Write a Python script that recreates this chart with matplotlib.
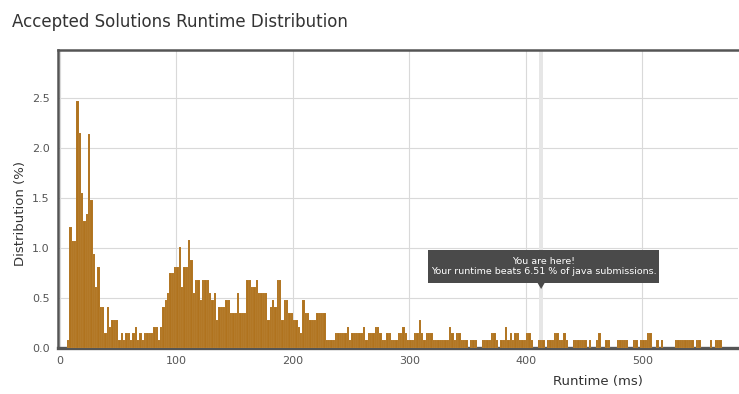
import numpy as np
import matplotlib
matplotlib.use('Agg')
import matplotlib.pyplot as plt
from matplotlib.patches import Rectangle, Polygon

# runtime bins (ms, 2 ms wide) and share of accepted solutions (%)
bin_start = 6
bin_width = 2
dist = [
    0.08, 1.21, 1.07, 1.07, 2.47, 2.15, 1.55, 1.27, 1.34, 2.14,   # 6-24
    1.48, 0.94, 0.61, 0.81, 0.41, 0.41, 0.15, 0.41, 0.21, 0.28,   # 26-44
    0.28, 0.28, 0.08, 0.15, 0.08, 0.15, 0.15, 0.08, 0.15, 0.21,   # 46-64
    0.08, 0.15, 0.08, 0.15, 0.15, 0.15, 0.15, 0.21, 0.21, 0.08,   # 66-84
    0.21, 0.41, 0.48, 0.55, 0.75, 0.75, 0.81, 0.81, 1.01, 0.61,   # 86-104
    0.81, 0.81, 1.08, 0.88, 0.55, 0.68, 0.68, 0.48, 0.68, 0.68,   # 106-124
    0.68, 0.55, 0.48, 0.55, 0.28, 0.41, 0.41, 0.41, 0.48, 0.48,   # 126-144
    0.35, 0.35, 0.35, 0.55, 0.35, 0.35, 0.35, 0.68, 0.68, 0.61,   # 146-164
    0.61, 0.68, 0.55, 0.55, 0.55, 0.55, 0.28, 0.41, 0.48, 0.41,   # 166-184
    0.68, 0.68, 0.28, 0.48, 0.48, 0.35, 0.35, 0.28, 0.28, 0.21,   # 186-204
    0.15, 0.48, 0.35, 0.35, 0.28, 0.28, 0.28, 0.35, 0.35, 0.35,   # 206-224
    0.35, 0.08, 0.08, 0.08, 0.08, 0.15, 0.15, 0.15, 0.15, 0.15,   # 226-244
    0.21, 0.08, 0.15, 0.15, 0.15, 0.15, 0.15, 0.21, 0.08, 0.15,   # 246-264
    0.15, 0.15, 0.21, 0.21, 0.15, 0.08, 0.08, 0.15, 0.15, 0.08,   # 266-284
    0.08, 0.08, 0.15, 0.15, 0.21, 0.15, 0.08, 0.08, 0.08, 0.15,   # 286-304
    0.15, 0.28, 0.15, 0.08, 0.15, 0.15, 0.15, 0.08, 0.08, 0.08,   # 306-324
    0.08, 0.08, 0.08, 0.08, 0.21, 0.15, 0.08, 0.15, 0.15, 0.08,   # 326-344
    0.08, 0.08, 0.00, 0.08, 0.08, 0.08, 0.00, 0.00, 0.08, 0.08,   # 346-364
    0.08, 0.08, 0.15, 0.15, 0.08, 0.00, 0.08, 0.08, 0.21, 0.08,   # 366-384
    0.15, 0.08, 0.15, 0.15, 0.08, 0.08, 0.08, 0.15, 0.15, 0.08,   # 386-404
    0.00, 0.00, 0.08, 0.08, 0.08, 0.00, 0.08, 0.08, 0.08, 0.15,   # 406-424
    0.15, 0.08, 0.08, 0.15, 0.08, 0.00, 0.00, 0.08, 0.08, 0.08,   # 426-444
    0.08, 0.08, 0.08, 0.00, 0.08, 0.00, 0.00, 0.08, 0.15, 0.00,   # 446-464
    0.00, 0.08, 0.08, 0.00, 0.00, 0.00, 0.08, 0.08, 0.08, 0.08,   # 466-484
    0.08, 0.00, 0.00, 0.08, 0.08, 0.00, 0.08, 0.08, 0.08, 0.15,   # 486-504
    0.15, 0.00, 0.00, 0.08, 0.00, 0.08, 0.00, 0.00, 0.00, 0.00,   # 506-524
    0.00, 0.08, 0.08, 0.08, 0.08, 0.08, 0.08, 0.08, 0.08, 0.00,   # 526-544
    0.08, 0.08, 0.00, 0.00, 0.00, 0.00, 0.08, 0.00, 0.08, 0.08,   # 546-564
    0.08,                                                         # 566
]
my_runtime = 413
beats_pct = 6.51
language = "java"

runtimes = bin_start + bin_width * np.arange(len(dist))

fig = plt.figure(figsize=(7.39, 3.94), dpi=100)
ax = fig.add_axes([58 / 739, 1 - 348 / 394, 680 / 739, 298 / 394])

ax.bar(runtimes, dist, width=bin_width, align='edge', color='#b0731e',
       edgecolor=(1, 1, 1, 0.15), linewidth=0.3, zorder=3)

# "you are here" band
ax.axvspan(my_runtime - 1.8, my_runtime + 1.8, color='#e6e6e6', zorder=1, lw=0)

ax.set_xlim(-1.7, 582)
ax.set_ylim(0, 2.98)
ax.set_xticks([0, 100, 200, 300, 400, 500])
ax.set_yticks([0, 0.5, 1.0, 1.5, 2.0, 2.5])
ax.set_yticklabels(["0.0", "0.5", "1.0", "1.5", "2.0", "2.5"])
ax.grid(True, color='#d9d9d9', linewidth=0.8, zorder=0)
ax.set_axisbelow(True)
ax.tick_params(length=0, labelsize=8, labelcolor='#555555', pad=6)

for side in ['left', 'top']:
    ax.spines[side].set_color('#555555')
    ax.spines[side].set_linewidth(1.8)
ax.spines['bottom'].set_color('#555555')
ax.spines['bottom'].set_linewidth(2.4)
ax.spines['right'].set_visible(False)

ax.set_ylabel('Distribution (%)', fontsize=9.5, color='#333333')
ax.yaxis.set_label_coords(-(58 - 27) / 680, 0.45)
ax.set_xlabel('Runtime (ms)', fontsize=9.5, color='#333333')
ax.xaxis.set_label_coords((598 - 58) / 680, -(375 - 348) / 298)

fig.text(12 / 739, 1 - 22 / 394, 'Accepted Solutions Runtime Distribution',
         fontsize=12, color='#333333', va='center', ha='left')

# tooltip
box_l = -1.7 + (428 - 58) / 680 * 583.7
box_r = -1.7 + (659 - 58) / 680 * 583.7
box_b, box_t = 0.65, 0.98
ax.add_patch(Rectangle((box_l, box_b), box_r - box_l, box_t - box_b,
                       facecolor='#4a4a4a', edgecolor='none', zorder=5))
ax.add_patch(Polygon([[my_runtime - 3, box_b], [my_runtime + 3, box_b],
                      [my_runtime, box_b - 0.06]], closed=True,
                     facecolor='#4a4a4a', edgecolor='none', zorder=5))
ax.text((box_l + box_r) / 2, (box_b + box_t) / 2,
        "You are here!\nYour runtime beats %.2f %% of %s submissions." % (beats_pct, language),
        ha='center', va='center', color='white', fontsize=6.8, zorder=6,
        linespacing=1.1)

fig.savefig('out.png', dpi=100)
